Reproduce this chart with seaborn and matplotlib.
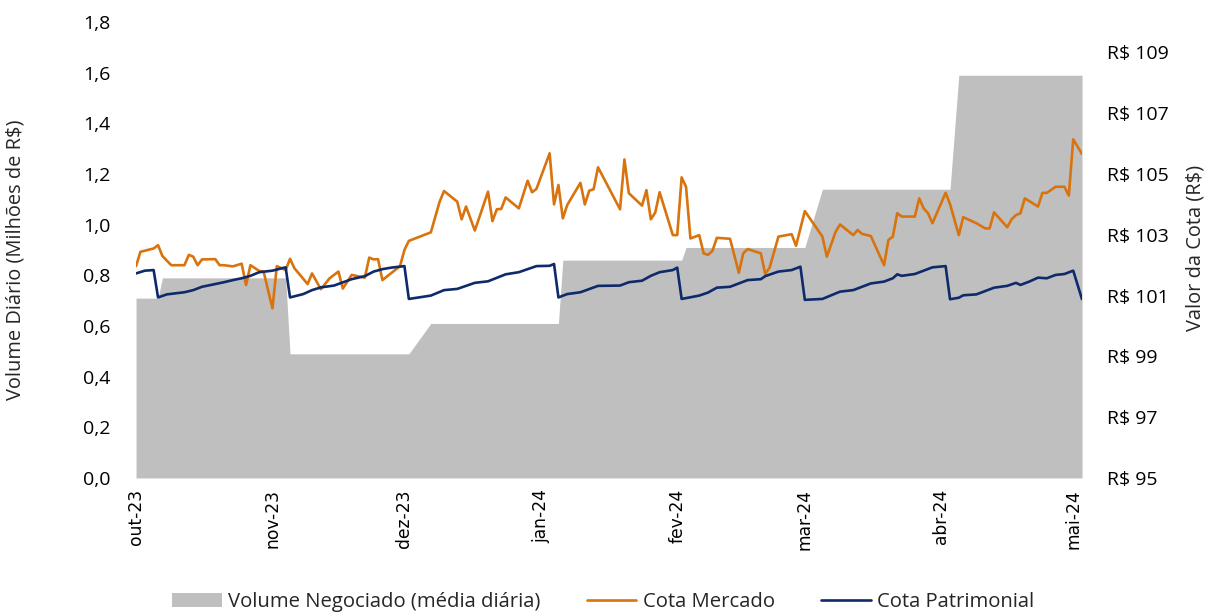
"""
Volume negociado x cota mercado x cota patrimonial (out-23 a mai-24).
"""

import pandas as pd
import matplotlib
matplotlib.use("Agg")
import matplotlib.pyplot as plt
from matplotlib.ticker import FuncFormatter, MultipleLocator
from matplotlib.patches import Patch
from matplotlib.lines import Line2D
import seaborn as sns

# Volume negociado (media diaria, milhoes de R$) - degraus mensais
vol_dates = [
    "2023-10-01", "2023-10-06", "2023-10-07", "2023-11-04", "2023-11-05",
    "2023-12-02", "2023-12-07", "2024-01-05", "2024-01-06", "2024-02-02",
    "2024-02-03", "2024-03-01", "2024-03-05", "2024-04-03", "2024-04-05",
    "2024-05-03",
]
vol_values = [
    0.71, 0.71, 0.79, 0.79, 0.49,
    0.49, 0.61, 0.61, 0.86, 0.86,
    0.91, 0.91, 1.14, 1.14, 1.59,
    1.59,
]

# Cota mercado (R$)
mkt_dates = [
    "2023-10-01", "2023-10-02", "2023-10-05", "2023-10-06", "2023-10-07",
    "2023-10-09", "2023-10-12", "2023-10-13", "2023-10-14", "2023-10-15",
    "2023-10-16", "2023-10-19", "2023-10-20", "2023-10-21", "2023-10-23",
    "2023-10-25", "2023-10-26", "2023-10-27", "2023-10-29", "2023-10-30",
    "2023-11-01", "2023-11-02", "2023-11-04", "2023-11-05", "2023-11-06",
    "2023-11-09", "2023-11-10", "2023-11-12", "2023-11-14", "2023-11-16",
    "2023-11-17", "2023-11-19", "2023-11-22", "2023-11-23", "2023-11-24",
    "2023-11-25", "2023-11-26", "2023-11-30", "2023-12-01", "2023-12-02",
    "2023-12-07", "2023-12-09", "2023-12-10", "2023-12-13", "2023-12-14",
    "2023-12-15", "2023-12-17", "2023-12-20", "2023-12-21", "2023-12-22",
    "2023-12-23", "2023-12-24", "2023-12-27", "2023-12-29", "2023-12-30",
    "2023-12-31", "2024-01-03", "2024-01-04", "2024-01-05", "2024-01-06",
    "2024-01-07", "2024-01-10", "2024-01-11", "2024-01-12", "2024-01-13",
    "2024-01-14", "2024-01-19", "2024-01-20", "2024-01-21", "2024-01-24",
    "2024-01-25", "2024-01-26", "2024-01-27", "2024-01-28", "2024-01-31",
    "2024-02-01", "2024-02-02", "2024-02-03", "2024-02-04", "2024-02-06",
    "2024-02-07", "2024-02-08", "2024-02-09", "2024-02-10", "2024-02-13",
    "2024-02-15", "2024-02-16", "2024-02-17", "2024-02-20", "2024-02-21",
    "2024-02-22", "2024-02-24", "2024-02-27", "2024-02-28", "2024-03-01",
    "2024-03-05", "2024-03-06", "2024-03-08", "2024-03-09", "2024-03-12",
    "2024-03-13", "2024-03-14", "2024-03-16", "2024-03-19", "2024-03-20",
    "2024-03-21", "2024-03-22", "2024-03-23", "2024-03-26", "2024-03-27",
    "2024-03-28", "2024-03-29", "2024-03-30", "2024-04-02", "2024-04-03",
    "2024-04-05", "2024-04-06", "2024-04-09", "2024-04-11", "2024-04-12",
    "2024-04-13", "2024-04-16", "2024-04-17", "2024-04-18", "2024-04-19",
    "2024-04-20", "2024-04-23", "2024-04-24", "2024-04-25", "2024-04-27",
    "2024-04-29", "2024-04-30", "2024-05-01", "2024-05-03",
]
mkt_values = [
    101.97, 102.44, 102.55, 102.66, 102.30,
    102.00, 102.00, 102.34, 102.28, 102.00,
    102.19, 102.20, 102.00, 102.00, 101.96,
    102.05, 101.35, 102.00, 101.81, 101.79,
    100.58, 101.97, 101.84, 102.21, 101.90,
    101.38, 101.73, 101.21, 101.57, 101.79,
    101.23, 101.68, 101.59, 102.25, 102.19,
    102.20, 101.51, 101.97, 102.50, 102.80,
    103.08, 104.09, 104.44, 104.09, 103.51,
    103.93, 103.14, 104.42, 103.45, 103.84,
    103.85, 104.23, 103.87, 104.78, 104.40,
    104.51, 105.68, 104.00, 104.64, 103.54,
    103.98, 104.71, 104.00, 104.45, 104.50,
    105.22, 103.84, 105.48, 104.37, 103.96,
    104.47, 103.51, 103.73, 104.40, 102.99,
    102.99, 104.89, 104.58, 102.88, 102.99,
    102.39, 102.34, 102.47, 102.90, 102.87,
    101.75, 102.39, 102.53, 102.39, 101.71,
    101.92, 102.94, 103.02, 102.64, 103.78,
    102.94, 102.28, 103.10, 103.34, 102.99,
    103.16, 103.03, 102.96, 102.00, 102.83,
    102.94, 103.71, 103.60, 103.60, 104.20,
    103.87, 103.71, 103.38, 104.38, 104.01,
    102.99, 103.58, 103.38, 103.21, 103.21,
    103.74, 103.25, 103.51, 103.65, 103.71,
    104.20, 103.93, 104.38, 104.38, 104.58,
    104.58, 104.29, 106.14, 105.66,
]

# Cota patrimonial (R$)
nav_dates = [
    "2023-10-01", "2023-10-03", "2023-10-05", "2023-10-06", "2023-10-08",
    "2023-10-12", "2023-10-14", "2023-10-16", "2023-10-18", "2023-10-21",
    "2023-10-23", "2023-10-25", "2023-10-27", "2023-10-29", "2023-11-01",
    "2023-11-04", "2023-11-05", "2023-11-08", "2023-11-10", "2023-11-12",
    "2023-11-15", "2023-11-19", "2023-11-22", "2023-11-24", "2023-11-26",
    "2023-11-28", "2023-12-01", "2023-12-02", "2023-12-07", "2023-12-10",
    "2023-12-13", "2023-12-17", "2023-12-20", "2023-12-24", "2023-12-27",
    "2023-12-31", "2024-01-03", "2024-01-04", "2024-01-05", "2024-01-07",
    "2024-01-10", "2024-01-14", "2024-01-19", "2024-01-21", "2024-01-24",
    "2024-01-26", "2024-01-28", "2024-01-31", "2024-02-01", "2024-02-02",
    "2024-02-06", "2024-02-08", "2024-02-10", "2024-02-13", "2024-02-17",
    "2024-02-20", "2024-02-21", "2024-02-24", "2024-02-27", "2024-02-29",
    "2024-03-01", "2024-03-05", "2024-03-09", "2024-03-12", "2024-03-16",
    "2024-03-19", "2024-03-21", "2024-03-22", "2024-03-23", "2024-03-26",
    "2024-03-30", "2024-04-02", "2024-04-03", "2024-04-05", "2024-04-06",
    "2024-04-09", "2024-04-13", "2024-04-16", "2024-04-18", "2024-04-19",
    "2024-04-21", "2024-04-23", "2024-04-25", "2024-04-27", "2024-04-29",
    "2024-05-01", "2024-05-03",
]
nav_values = [
    101.73, 101.82, 101.84, 100.94, 101.04,
    101.11, 101.18, 101.29, 101.35, 101.44,
    101.51, 101.57, 101.65, 101.77, 101.82,
    101.93, 100.94, 101.05, 101.18, 101.27,
    101.33, 101.54, 101.64, 101.79, 101.87,
    101.92, 101.97, 100.89, 101.00, 101.18,
    101.22, 101.42, 101.47, 101.70, 101.77,
    101.97, 101.98, 102.04, 100.94, 101.05,
    101.11, 101.32, 101.33, 101.44, 101.49,
    101.65, 101.77, 101.84, 101.92, 100.89,
    101.00, 101.10, 101.26, 101.29, 101.51,
    101.54, 101.64, 101.79, 101.84, 101.95,
    100.86, 100.89, 101.13, 101.18, 101.40,
    101.46, 101.57, 101.70, 101.65, 101.71,
    101.93, 101.97, 100.88, 100.93, 101.01,
    101.04, 101.26, 101.32, 101.42, 101.35,
    101.46, 101.59, 101.57, 101.68, 101.71,
    101.82, 100.88,
]

month_ticks = [
    "2023-10-01", "2023-11-01", "2023-12-01", "2024-01-01",
    "2024-02-01", "2024-03-01", "2024-04-01", "2024-05-01",
]
month_labels = ["out-23", "nov-23", "dez-23", "jan-24",
                "fev-24", "mar-24", "abr-24", "mai-24"]

GRAY = "#BFBFBF"
ORANGE = "#D9730D"
NAVY = "#0E2A6B"

sns.set_theme(style="white")
plt.rcParams["font.family"] = ["Open Sans", "DejaVu Sans"]

vol = pd.DataFrame({"data": pd.to_datetime(vol_dates), "volume": vol_values})
mkt = pd.DataFrame({"data": pd.to_datetime(mkt_dates), "cota": mkt_values})
nav = pd.DataFrame({"data": pd.to_datetime(nav_dates), "cota": nav_values})

fig = plt.figure(figsize=(12.06, 6.12), dpi=100)
ax = fig.add_axes([0.1128, 0.219, 0.7844, 0.745])

# Volume area (left axis)
ax.fill_between(vol["data"], 0, vol["volume"], color=GRAY, lw=0)
ax.set_ylim(0, 1.8)
ax.yaxis.set_major_locator(MultipleLocator(0.2))
ax.yaxis.set_major_formatter(
    FuncFormatter(lambda v, _: f"{v:.1f}".replace(".", ","))
)
ax.set_xlim(pd.Timestamp("2023-10-01"), pd.Timestamp("2024-05-03"))
ax.set_xticks(pd.to_datetime(month_ticks))
ax.set_xticklabels(month_labels, rotation=90, family="DejaVu Sans",
                   fontsize=12.3)
ax.tick_params(axis="x", length=0, pad=8, colors="black")
ax.tick_params(axis="y", length=0, pad=18.5, labelsize=14, colors="black")
ax.set_ylabel("Volume Diário (Milhões de R$)", fontsize=14.4)
ax.yaxis.set_label_coords(-0.1173, 0.478)

# Price lines (right axis)
ax2 = ax.twinx()
sns.lineplot(data=mkt, x="data", y="cota", ax=ax2, color=ORANGE, lw=1.9)
sns.lineplot(data=nav, x="data", y="cota", ax=ax2, color=NAVY, lw=1.9)
ax2.set_ylim(95, 110)
ax2.set_yticks(range(95, 110, 2))
ax2.yaxis.set_major_formatter(FuncFormatter(lambda v, _: f"R$ {v:.0f}"))
ax2.tick_params(axis="y", length=0, pad=18, labelsize=14, colors="black")
ax2.set_ylabel("Valor da Cota (R$)", fontsize=14.4)
ax2.yaxis.set_label_coords(1.109, 0.505)
ax2.set_xlabel("")
ax2.set_xlim(ax.get_xlim())

for a in (ax, ax2):
    for s in a.spines.values():
        s.set_visible(False)
    a.grid(False)

handles = [
    Patch(facecolor=GRAY, edgecolor="none"),
    Line2D([], [], color=ORANGE, lw=1.9),
    Line2D([], [], color=NAVY, lw=1.9),
]
labels = ["Volume Negociado (média diária)", "Cota Mercado", "Cota Patrimonial"]
fig.legend(handles, labels, loc="lower center", bbox_to_anchor=(0.5, -0.03),
           ncol=3, frameon=False, fontsize=14.6, handlelength=2.45,
           handleheight=0.75, columnspacing=2.3, handletextpad=0.3)

fig.savefig("out.png", dpi=100)
